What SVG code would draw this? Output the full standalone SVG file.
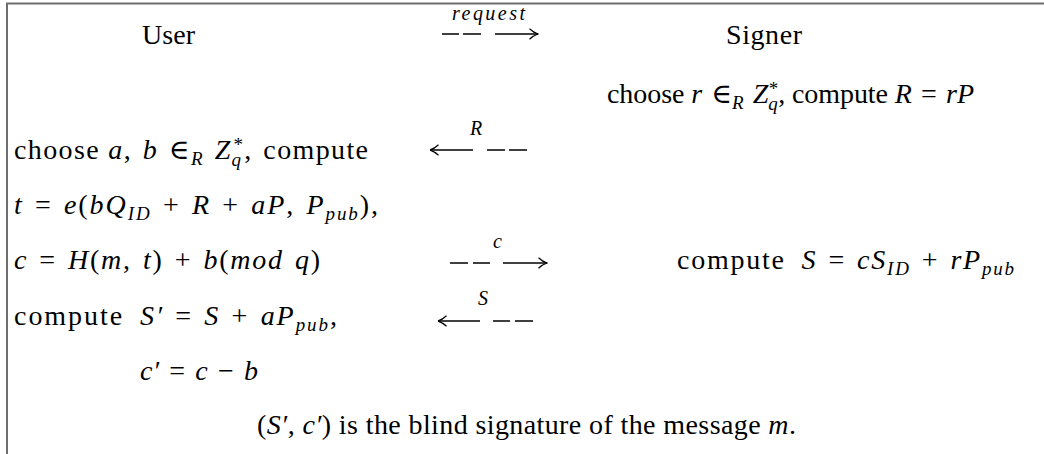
<svg xmlns="http://www.w3.org/2000/svg" width="1044" height="454" viewBox="0 0 1044 454">
<style>
.t{font-family:"Liberation Serif","DejaVu Serif",serif;font-size:28px;fill:#000}
.i{font-style:italic}
.s{font-size:19px}
.lbl{font-family:"Liberation Serif","DejaVu Serif",serif;font-size:20px;font-style:italic;fill:#000}
.ln{stroke:#000;stroke-width:1.3;fill:none}
.frame{stroke:#6e6e6e;stroke-width:2;fill:none}
</style>
<defs>
<marker id="ah" viewBox="0 0 10 12" refX="9.5" refY="6" markerWidth="10" markerHeight="12" markerUnits="userSpaceOnUse" orient="auto-start-reverse">
<path d="M1,0.8 Q5,4.6 9.5,6 Q5,7.4 1,11.2" fill="none" stroke="#000" stroke-width="1.2"/>
</marker>
</defs>
<rect width="1044" height="454" fill="#fff"/>
<path class="frame" d="M7,454 V3.5 H1044"/>

<g id="user"><text class="t" x="142" y="44" textLength="53">User</text></g>
<g id="signer"><text class="t" x="726" y="44" textLength="76">Signer</text></g>

<g id="signer-choose-r"><text class="t" x="607" y="103" textLength="367">choose <tspan class="i">r</tspan>&#8196;∈<tspan class="s i" dy="6">R</tspan><tspan class="i" dy="-6">&#8196;Z</tspan><tspan class="s i" dy="7">q</tspan><tspan class="s" dx="-9" dy="-15">*</tspan><tspan dy="8">, compute </tspan><tspan class="i">R</tspan>&#8196;=&#8196;<tspan class="i">rP</tspan></text></g>

<g id="user-choose-ab"><text class="t" x="14" y="159" textLength="354">choose <tspan class="i">a</tspan>,&#8196;<tspan class="i">b</tspan>&#8196;∈<tspan class="s i" dy="6">R</tspan><tspan class="i" dy="-6">&#8196;Z</tspan><tspan class="s i" dy="7">q</tspan><tspan class="s" dx="-9" dy="-15">*</tspan><tspan dy="8">,&#8196;compute</tspan></text></g>

<g id="user-t"><text class="t" x="14" y="214" textLength="364"><tspan class="i">t</tspan>&#8196;=&#8196;<tspan class="i">e</tspan>(<tspan class="i">bQ</tspan><tspan class="s i" dy="6">ID</tspan><tspan dy="-6">&#8196;+&#8196;</tspan><tspan class="i">R</tspan>&#8196;+&#8196;<tspan class="i">aP</tspan>,&#8196;<tspan class="i">P</tspan><tspan class="s i" dy="6">pub</tspan><tspan dy="-6">),</tspan></text></g>

<g id="user-c"><text class="t" x="14" y="269" textLength="306"><tspan class="i">c</tspan>&#8196;=&#8196;<tspan class="i">H</tspan>(<tspan class="i">m</tspan>,&#8196;<tspan class="i">t</tspan>)&#8196;+&#8196;<tspan class="i">b</tspan>(<tspan class="i">mod</tspan>&#8196;<tspan class="i">q</tspan>)</text></g>

<g id="signer-compute-s"><text class="t" x="677" y="269" textLength="337">compute&#8194;<tspan class="i">S</tspan>&#8196;=&#8196;<tspan class="i">cS</tspan><tspan class="s i" dy="6">ID</tspan><tspan dy="-6">&#8196;+&#8196;</tspan><tspan class="i">rP</tspan><tspan class="s i" dy="6">pub</tspan></text></g>

<g id="user-compute-s1"><text class="t" x="14" y="325" textLength="323">compute&#8194;<tspan class="i">S′</tspan>&#8196;=&#8196;<tspan class="i">S</tspan>&#8196;+&#8196;<tspan class="i">aP</tspan><tspan class="s i" dy="6">pub</tspan><tspan dy="-6">,</tspan></text></g>

<g id="user-c1"><text class="t" x="140" y="380" textLength="118"><tspan class="i">c′</tspan>&#8196;=&#8196;<tspan class="i">c</tspan>&#8196;−&#8196;<tspan class="i">b</tspan></text></g>

<g id="result"><text class="t" x="257" y="434" textLength="539">(<tspan class="i">S′</tspan>, <tspan class="i">c′</tspan>) is the blind signature of the message <tspan class="i">m</tspan>.</text></g>

<g id="connectors">
<g id="msg-request">
<text class="lbl" x="452" y="20" textLength="73">request</text>
<path class="ln" d="M442,34 H459 M463,34 H481"/>
<path class="ln" d="M495,34 H538" marker-end="url(#ah)"/>
</g>
<g id="msg-R">
<text class="lbl" x="470" y="135">R</text>
<path class="ln" d="M473,150 H430" marker-end="url(#ah)"/>
<path class="ln" d="M487,150 H505 M509,150 H527"/>
</g>
<g id="msg-c">
<text class="lbl" x="493" y="248">c</text>
<path class="ln" d="M450,263 H468 M473,263 H490"/>
<path class="ln" d="M503,263 H547" marker-end="url(#ah)"/>
</g>
<g id="msg-S">
<text class="lbl" x="478" y="305">S</text>
<path class="ln" d="M480,321 H438" marker-end="url(#ah)"/>
<path class="ln" d="M493,321 H510 M515,321 H533"/>
</g>
</g>
</svg>
